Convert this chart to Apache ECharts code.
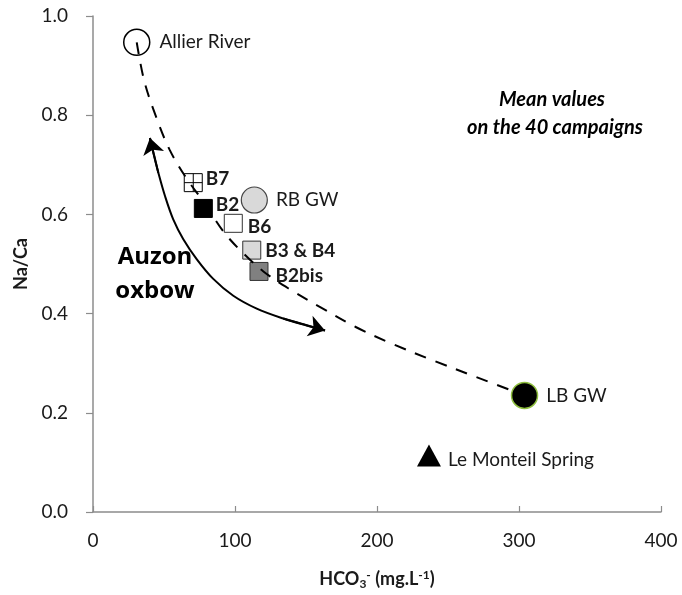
<!DOCTYPE html>
<html><head><meta charset="utf-8">
<script src="https://cdn.jsdelivr.net/npm/echarts@6/dist/echarts.min.js"></script>
<style>html,body{margin:0;padding:0;background:#fff}#c{width:682px;height:595px}</style>
</head><body><div id="c"></div>
<script>
// ---- data ----
const sampleNames = ['Allier River', 'B7', 'B2', 'B6', 'B3 & B4', 'B2bis', 'RB GW', 'LB GW', 'Le Monteil Spring'];
const hco3 = [30.8, 70.6, 77.7, 98.8, 111.8, 116.9, 113.6, 303.9, 236.6];
const naCa = [0.947, 0.664, 0.612, 0.582, 0.528, 0.485, 0.629, 0.235, 0.114];

// dashed mixing trend (Allier River -> LB GW)
const mixingX = [30.8, 36, 44, 54, 66, 78, 92, 105, 120, 138, 160, 185, 210, 240, 270, 303.9];
const mixingY = [0.947, 0.87, 0.80, 0.73, 0.672, 0.625, 0.565, 0.524, 0.485, 0.450, 0.413, 0.373, 0.340, 0.305, 0.272, 0.235];

// solid double arrow (Auzon oxbow range)
const oxbowX = [40.1, 42.5, 46.0, 50.7, 56.5, 63.6, 73.0, 84.7, 98.8, 115.3, 134.0, 150.5, 163.4];
const oxbowY = [0.754, 0.724, 0.684, 0.637, 0.590, 0.550, 0.510, 0.470, 0.436, 0.410, 0.390, 0.376, 0.366];

const xTicks = { min: 0, max: 400, step: 100 };
const yTicks = { min: 0, max: 1, step: 0.2 };

// ---- styles ----
const FONT = 'Lato, "Open Sans", sans-serif';
const TXT = '#1a1a1a';
const styleMap = {
  'Allier River':      { symbol: 'circle', size: 26, color: '#ffffff', border: '#000', bw: 1.5, bold: false, dist: 9, off: [0, 0] },
  'B7':                { symbol: 'path://M0,0L20,0L20,20L0,20Z M10,0L10,20 M0,10L20,10', size: 18, color: '#ffffff', border: '#000', bw: 1, bold: true, dist: 3, off: [0, -4] },
  'B2':                { symbol: 'rect', size: 18, color: '#000000', border: '#000', bw: 1, bold: true, dist: 3, off: [0, -4] },
  'B6':                { symbol: 'rect', size: 18, color: '#ffffff', border: '#333', bw: 1, bold: true, dist: 5, off: [0, 4] },
  'B3 & B4':           { symbol: 'rect', size: 18, color: '#d9d9d9', border: '#333', bw: 1, bold: true, dist: 4, off: [0, 1] },
  'B2bis':             { symbol: 'rect', size: 18, color: '#808080', border: '#333', bw: 1, bold: true, dist: 7, off: [0, 4] },
  'RB GW':             { symbol: 'circle', size: 26, color: '#d9d9d9', border: '#444', bw: 1.2, bold: false, dist: 8, off: [0, 0] },
  'LB GW':             { symbol: 'circle', size: 26, color: '#000000', border: '#8fbf3f', bw: 1.5, bold: false, dist: 8, off: [0, 0] },
  'Le Monteil Spring': { symbol: 'triangle', size: [24, 22], color: '#000000', border: '#000', bw: 0, bold: false, dist: 7, off: [0, 4] }
};

const scatterSeries = sampleNames.map((name, i) => {
  const s = styleMap[name];
  return {
    type: 'scatter', name: name, z: 2,
    symbol: s.symbol, symbolSize: s.size,
    itemStyle: { color: s.color, borderColor: s.border, borderWidth: s.bw, opacity: 1 },
    label: {
      show: true, position: 'right', distance: s.dist, offset: s.off,
      formatter: name, color: TXT, fontFamily: FONT, fontSize: 19,
      fontWeight: s.bold ? 'bold' : 'normal'
    },
    data: [[hco3[i], naCa[i]]]
  };
});

const zip = (a, b) => a.map((v, i) => [v, b[i]]);
const oxbow = zip(oxbowX, oxbowY);
const n = oxbow.length;

const option = {
  animation: false,
  backgroundColor: '#fff',
  grid: { left: 93, right: 21, top: 16, bottom: 81, containLabel: false },
  xAxis: {
    type: 'value', min: xTicks.min, max: xTicks.max, interval: xTicks.step,
    axisLine: { show: true, lineStyle: { color: '#8c8c8c', width: 1.5 } },
    axisTick: { show: true, inside: true, length: 6, lineStyle: { color: '#8c8c8c', width: 1.2 } },
    splitLine: { show: false },
    axisLabel: { color: TXT, fontFamily: FONT, fontSize: 19, margin: 19 },
    name: 'HCO{sub|3}{sup|-} (mg.L{sup|-1})',
    nameLocation: 'middle', nameGap: 57,
    nameTextStyle: {
      color: TXT, fontFamily: FONT, fontSize: 18, fontWeight: 'bold',
      rich: {
        sub: { fontSize: 12, fontWeight: 'bold', fontFamily: FONT, color: TXT, verticalAlign: 'bottom', padding: [9, 0, 0, 0] },
        sup: { fontSize: 12, fontWeight: 'bold', fontFamily: FONT, color: TXT, verticalAlign: 'top', padding: [0, 0, 9, 0] }
      }
    }
  },
  yAxis: {
    type: 'value', min: yTicks.min, max: yTicks.max, interval: yTicks.step,
    axisLine: { show: true, lineStyle: { color: '#8c8c8c', width: 1.5 } },
    axisTick: { show: true, inside: false, length: 7, lineStyle: { color: '#8c8c8c', width: 1.2 } },
    splitLine: { show: false },
    axisLabel: { color: TXT, fontFamily: FONT, fontSize: 19, margin: 25, formatter: v => v.toFixed(1) },
    name: 'Na/Ca', nameLocation: 'middle', nameGap: 63,
    nameTextStyle: { color: TXT, fontFamily: FONT, fontSize: 18, fontWeight: 'bold' }
  },
  graphic: [
    { type: 'text', x: 552, y: 100, z: 10,
      style: { text: 'Mean values', align: 'center', verticalAlign: 'middle',
        font: 'italic bold 20px "Liberation Sans Narrow", Lato, sans-serif', fill: '#000' } },
    { type: 'text', x: 555, y: 128, z: 10,
      style: { text: 'on the 40 campaigns', align: 'center', verticalAlign: 'middle',
        font: 'italic bold 20px "Liberation Sans Narrow", Lato, sans-serif', fill: '#000' } },
    { type: 'text', x: 155, y: 257, z: 10,
      style: { text: 'Auzon', align: 'center', verticalAlign: 'middle',
        font: 'bold 24px "Open Sans", Lato, sans-serif', fill: '#000' } },
    { type: 'text', x: 155, y: 291, z: 10,
      style: { text: 'oxbow', align: 'center', verticalAlign: 'middle',
        font: 'bold 24px "Open Sans", Lato, sans-serif', fill: '#000' } }
  ],
  series: [
    ...scatterSeries,
    {
      type: 'line', name: 'mixing', z: 3, smooth: 0.35, showSymbol: false, symbol: 'none',
      lineStyle: { color: '#000', width: 2, type: [12, 10] },
      data: zip(mixingX, mixingY), silent: true
    },
    {
      type: 'line', name: 'oxbow', z: 3, smooth: 0.35, showSymbol: false, symbol: 'none',
      lineStyle: { color: '#000', width: 2 },
      data: oxbow, silent: true
    },
    {
      type: 'lines', coordinateSystem: 'cartesian2d', z: 4, silent: true,
      symbol: ['none', 'arrow'], symbolSize: 16,
      lineStyle: { color: '#000', width: 2, opacity: 1 },
      data: [
        { coords: [oxbow[2], oxbow[0]] },
        { coords: [oxbow[n - 3], oxbow[n - 1]] }
      ]
    }
  ]
};

const chart = echarts.init(document.getElementById('c'), null, { renderer: 'canvas' });
chart.setOption(option);
</script>
</body></html>
